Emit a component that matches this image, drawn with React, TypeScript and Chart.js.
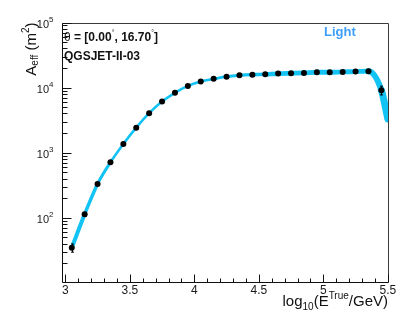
import { useEffect, useRef } from 'react';
import { Chart, registerables } from 'chart.js';

Chart.register(...registerables);

// ---- data ----
const logE = [3.05, 3.15, 3.25, 3.35, 3.45, 3.55, 3.65, 3.75, 3.85, 3.95, 4.05, 4.15, 4.25, 4.35, 4.45, 4.55, 4.65, 4.75, 4.85, 4.95, 5.05, 5.15, 5.25, 5.35, 5.45];
const aeff = [34.5, 113, 330, 710, 1360, 2420, 4040, 6100, 8300, 10600, 12400, 13600, 14700, 15400, 15800, 16000, 16400, 16600, 16800, 17200, 17200, 17400, 17600, 17800, 9100];
const aeffErr = [5, 8, 15, 25, 40, 60, 90, 120, 150, 180, 200, 210, 220, 230, 230, 240, 240, 250, 250, 260, 260, 280, 300, 350, 1400];
const curveLogE = [3.05, 3.15, 3.25, 3.35, 3.45, 3.55, 3.65, 3.75, 3.85, 3.95, 4.05, 4.15, 4.25, 4.35, 4.45, 4.55, 4.65, 4.75, 4.85, 4.95, 5.05, 5.15, 5.25, 5.35, 5.45, 5.5];
const curveAeff = [34.5, 113, 330, 710, 1360, 2420, 4040, 6100, 8300, 10600, 12400, 13600, 14700, 15400, 15800, 16000, 16400, 16600, 16800, 17200, 17200, 17400, 17600, 17800, 9100, 3300];
const xMajorTicks = [3, 3.5, 4, 4.5, 5, 5.5];
const xTickLabels = ['3', '3.5', '4', '4.5', '5', '5.5'];
const xMinorTicks = [3.1, 3.2, 3.3, 3.4, 3.6, 3.7, 3.8, 3.9, 4.1, 4.2, 4.3, 4.4, 4.6, 4.7, 4.8, 4.9, 5.1, 5.2, 5.3, 5.4];
const yDecadeExponents = [2, 3, 4, 5];
const yMinorMultipliers = [2, 3, 4, 5, 6, 7, 8, 9];
const yMinorDecades = [1, 2, 3, 4];
const angleText = ['θ', ' = [0.00', '°', ', 16.70', '°', ']'];
const modelText = 'QGSJET-II-03';
const groupText = 'Light';

const FONT = '"Liberation Sans", Arial, Helvetica, sans-serif';
const CYAN = '#12c3f4';

// per-segment line widths of the cyan band (style only)
const segWidths = [4, 3.5, 3, 2.6, 2.6, 2.6, 2.6, 2.6, 2.6, 2.6, 2.6, 2.8, 3, 3.2, 3.6, 4.6, 4.8, 4.8, 4.8, 4.8, 4.8, 4.8, 4.8, 6, 7];

const decorPlugin = {
  id: 'rootDecor',
  afterDatasetsDraw(chart: any) {
    const ctx = chart.ctx as CanvasRenderingContext2D;
    const xs = chart.scales.x;
    const ys = chart.scales.y;
    const ca = chart.chartArea;
    ctx.save();
    ctx.beginPath();
    ctx.rect(ca.left, ca.top, ca.right - ca.left, ca.bottom - ca.top);
    ctx.clip();
    ctx.strokeStyle = '#000';
    ctx.lineWidth = 1;
    logE.forEach((x, i) => {
      const px = Math.round(xs.getPixelForValue(x)) + 0.5;
      const y1 = ys.getPixelForValue(aeff[i] - aeffErr[i]);
      const y2 = ys.getPixelForValue(aeff[i] + aeffErr[i]);
      ctx.beginPath();
      ctx.moveTo(px, y1);
      ctx.lineTo(px, y2);
      ctx.stroke();
      ctx.beginPath();
      ctx.moveTo(px - 1.5, y1);
      ctx.lineTo(px + 1.5, y1);
      ctx.moveTo(px - 1.5, y2);
      ctx.lineTo(px + 1.5, y2);
      ctx.stroke();
    });
    ctx.restore();
  },
  afterDraw(chart: any) {
    const ctx = chart.ctx as CanvasRenderingContext2D;
    const xs = chart.scales.x;
    const ys = chart.scales.y;
    const ca = chart.chartArea;
    const L = Math.round(ca.left) + 0.5;
    const R = Math.round(ca.right) + 0.5;
    const T = Math.round(ca.top) + 0.5;
    const B = Math.round(ca.bottom) + 0.5;
    ctx.save();
    // frame
    ctx.lineWidth = 1;
    ctx.strokeStyle = '#3a3a3a';
    ctx.beginPath();
    ctx.moveTo(L, T);
    ctx.lineTo(R, T);
    ctx.lineTo(R, B);
    ctx.stroke();
    ctx.strokeStyle = '#111';
    ctx.beginPath();
    ctx.moveTo(L, T);
    ctx.lineTo(L, B);
    ctx.lineTo(R, B);
    ctx.stroke();

    // x ticks (inward)
    ctx.beginPath();
    xMajorTicks.forEach((v) => {
      const px = Math.round(xs.getPixelForValue(v)) + 0.5;
      ctx.moveTo(px, B);
      ctx.lineTo(px, B - 8);
    });
    xMinorTicks.forEach((v) => {
      const px = Math.round(xs.getPixelForValue(v)) + 0.5;
      ctx.moveTo(px, B);
      ctx.lineTo(px, B - 4);
    });
    // y ticks (inward)
    yDecadeExponents.forEach((e) => {
      const py = Math.round(ys.getPixelForValue(Math.pow(10, e))) + 0.5;
      ctx.moveTo(L, py);
      ctx.lineTo(L + 9, py);
    });
    yMinorDecades.forEach((d) => {
      yMinorMultipliers.forEach((m) => {
        const v = m * Math.pow(10, d);
        if (v < ys.min || v > ys.max) return;
        const py = Math.round(ys.getPixelForValue(v)) + 0.5;
        ctx.moveTo(L, py);
        ctx.lineTo(L + 5, py);
      });
    });
    ctx.stroke();

    // x tick labels
    ctx.fillStyle = '#1a1a1a';
    ctx.font = `12px ${FONT}`;
    ctx.textAlign = 'center';
    ctx.textBaseline = 'alphabetic';
    xMajorTicks.forEach((v, i) => {
      ctx.fillText(xTickLabels[i], xs.getPixelForValue(v), 294);
    });

    // y tick labels 10^n
    yDecadeExponents.forEach((e) => {
      const py = ys.getPixelForValue(Math.pow(10, e));
      ctx.font = `11px ${FONT}`;
      ctx.textAlign = 'right';
      ctx.fillText('10', 49, py + 5);
      ctx.font = `8px ${FONT}`;
      ctx.textAlign = 'left';
      ctx.fillText(String(e), 49, py - 0.5);
    });

    // composite text helper
    const drawPieces = (pieces: { t: string; size: number; dy: number; bold?: boolean }[], x: number, y: number, align: 'left' | 'right') => {
      let total = 0;
      pieces.forEach((p) => {
        ctx.font = `${p.bold ? 'bold ' : ''}${p.size}px ${FONT}`;
        total += ctx.measureText(p.t).width;
      });
      let cx = align === 'right' ? x - total : x;
      ctx.textAlign = 'left';
      pieces.forEach((p) => {
        ctx.font = `${p.bold ? 'bold ' : ''}${p.size}px ${FONT}`;
        ctx.fillText(p.t, cx, y + p.dy);
        cx += ctx.measureText(p.t).width;
      });
    };

    // x title
    ctx.fillStyle = '#111';
    drawPieces(
      [
        { t: 'log', size: 15, dy: 0 },
        { t: '10', size: 10, dy: 4 },
        { t: '(E', size: 15, dy: 0 },
        { t: 'True', size: 10, dy: -7 },
        { t: '/GeV)', size: 15, dy: 0 },
      ],
      388,
      306,
      'right'
    );

    // y title (rotated)
    ctx.save();
    ctx.translate(35.5, ca.top);
    ctx.rotate(-Math.PI / 2);
    drawPieces(
      [
        { t: 'A', size: 15, dy: 0 },
        { t: 'eff', size: 10, dy: 2.5 },
        { t: ' (m', size: 15, dy: 0 },
        { t: '2', size: 10, dy: -6.5 },
        { t: ')', size: 15, dy: 0 },
      ],
      0,
      0,
      'right'
    );
    ctx.restore();

    // annotations
    ctx.fillStyle = '#111';
    drawPieces(
      [
        { t: angleText[0], size: 12, dy: 0, bold: false },
        { t: angleText[1], size: 12, dy: 0, bold: true },
        { t: angleText[2], size: 7, dy: -6, bold: false },
        { t: angleText[3], size: 12, dy: 0, bold: true },
        { t: angleText[4], size: 7, dy: -6, bold: false },
        { t: angleText[5], size: 12, dy: 0, bold: true },
      ],
      64,
      41,
      'left'
    );
    ctx.font = `bold 12px ${FONT}`;
    ctx.textAlign = 'left';
    ctx.fillText(modelText, 64, 59.5);
    ctx.fillStyle = '#3d9efc';
    ctx.font = `bold 13px ${FONT}`;
    ctx.fillText(groupText, 324, 35.5);
    ctx.restore();
  },
};

export default function App() {
  const ref = useRef<HTMLCanvasElement | null>(null);
  useEffect(() => {
    if (!ref.current) return;
    const chart = new Chart(ref.current, {
      type: 'line',
      data: {
        datasets: [
          {
            label: 'points',
            data: logE.map((x, i) => ({ x, y: aeff[i] })),
            showLine: false,
            pointRadius: 3,
            pointHoverRadius: 3,
            pointBackgroundColor: '#000',
            pointBorderColor: '#000',
            pointBorderWidth: 0,
            order: 0,
          },
          {
            label: 'curve',
            data: curveLogE.map((x, i) => ({ x, y: curveAeff[i] })),
            borderColor: CYAN,
            borderWidth: 3,
            pointRadius: 0,
            cubicInterpolationMode: 'monotone',
            borderCapStyle: 'round',
            borderJoinStyle: 'round',
            segment: {
              borderWidth: (c: any) => segWidths[c.p0DataIndex] ?? 3,
            },
            order: 1,
          } as any,
        ],
      },
      options: {
        responsive: false,
        animation: false,
        devicePixelRatio: 1,
        layout: { padding: { left: 61.5, right: 21, top: 22.5, bottom: 43 } },
        scales: {
          x: { type: 'linear', min: 2.9705, max: 5.5015, display: false },
          y: { type: 'logarithmic', min: 10.26, max: 1e5, display: false },
        },
        plugins: { legend: { display: false }, tooltip: { enabled: false } },
        events: [],
      },
      plugins: [decorPlugin],
    });
    return () => chart.destroy();
  }, []);
  return (
    <div style={{ position: 'absolute', left: 0, top: 0, width: 409, height: 325, background: '#fff' }}>
      <canvas ref={ref} width={409} height={325} style={{ display: 'block', width: 409, height: 325 }} />
    </div>
  );
}
